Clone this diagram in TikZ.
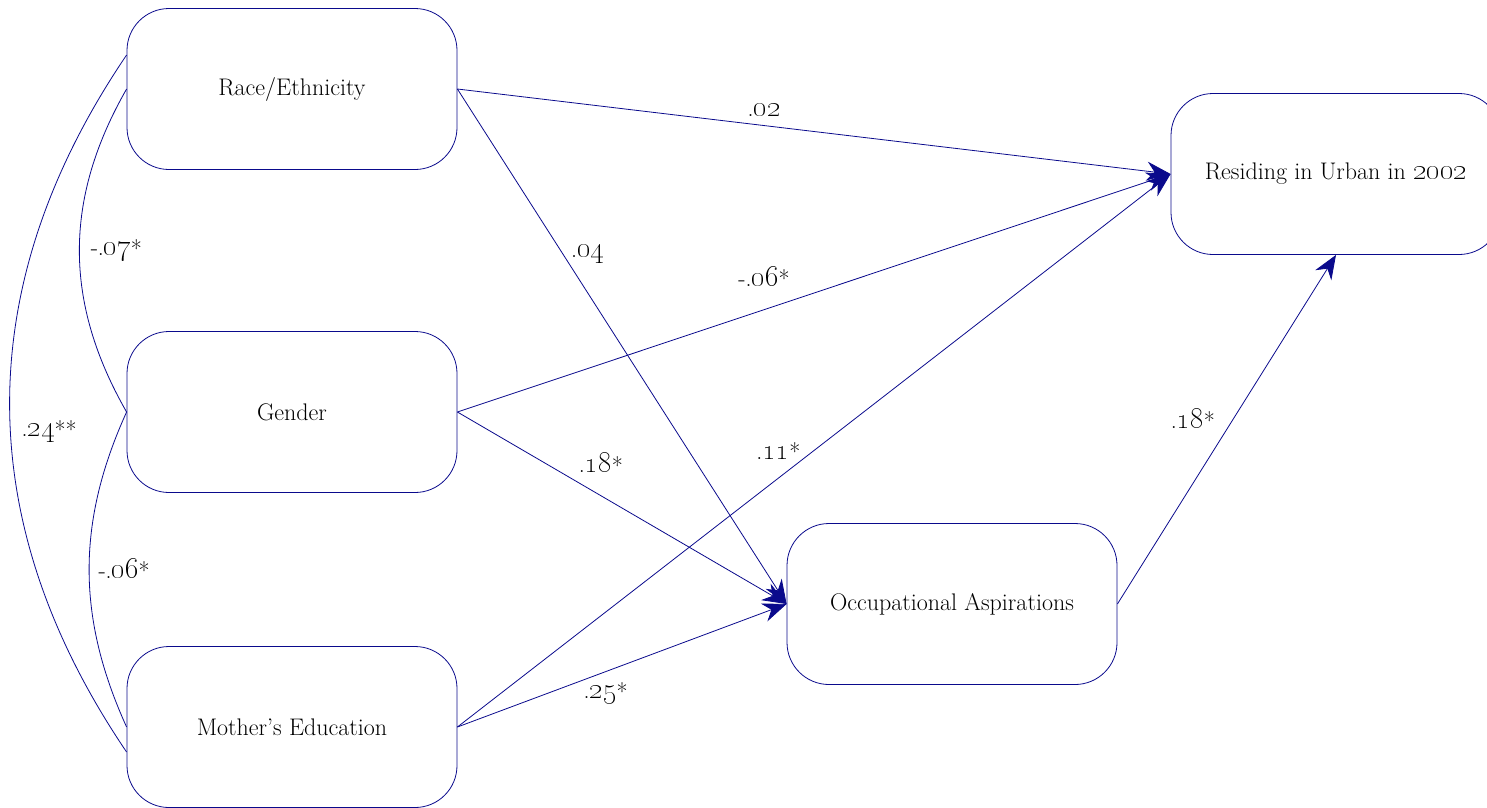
\documentclass[tikz,border=0pt]{standalone}
\usetikzlibrary{arrows.meta,calc}
\definecolor{navy}{RGB}{10,10,140}
\tikzset{
  box/.style={draw=navy, line width=0.8pt, rounded corners=42pt, minimum width=330pt, minimum height=161pt, align=center, font=\fontsize{24}{28}\selectfont},
  path/.style={draw=navy, line width=0.8pt, -{Stealth[length=24pt,width=19pt]}},
  cov/.style={draw=navy, line width=0.8pt},
  lab/.style={font=\fontsize{24}{28}\selectfont, inner sep=2pt}
}
\newcommand{\nm}[1]{{\fontsize{28}{32}\selectfont\oldstylenums{#1}}}
\newcommand{\st}{\raisebox{-0.12ex}{*}}
\begin{document}
\begin{tikzpicture}[x=1pt,y=-1pt]
\useasboundingbox (0,0) rectangle (1487,807);
\node[box] (race) at (292,89) {Race/Ethnicity};
\node[box] (gender) at (292,412) {Gender};
\node[box] (mother) at (292,727) {Mother's Education};
\node[box] (occ) at (952,604) {Occupational Aspirations};
\node[box] (res) at (1336,174) {Residing in Urban in \nm{2002}};

\draw[path] (race.east) -- node[lab, pos=0.43, above=7pt] {.\nm{02}} (res.west);
\draw[path] (race.east) -- node[lab, pos=0.32, right=6pt] {.\nm{04}} (occ.west);
\draw[path] (gender.east) -- node[lab, pos=0.43, above=20pt] {-.\nm{06}\st} (res.west);
\draw[path] (gender.east) -- node[lab, pos=0.43, above=18pt, xshift=2pt] {.\nm{18}\st} (occ.west);
\draw[path] (mother.east) -- node[lab, pos=0.45, above=15pt] {.\nm{11}\st} (res.west);
\draw[path] (mother.east) -- node[lab, pos=0.45, below=8pt] {.\nm{25}\st} (occ.west);
\draw[path] (occ.east) -- node[lab, pos=0.53, left=16pt] {.\nm{18}\st} (res.south);

\draw[cov] (race.west) .. controls +(-63,110) and +(-63,-110) .. node[lab, right=9pt] {-.\nm{07}\st} (gender.west);
\draw[cov] (gender.west) .. controls +(-50,110) and +(-50,-110) .. node[lab, right=7pt] {-.\nm{06}\st} (mother.west);
\draw[cov] ([yshift=34pt]race.west) .. controls +(-156,230) and +(-156,-230) .. node[lab, pos=0.54, right=9pt] {.\nm{24}\st\st} ([yshift=-25pt]mother.west);
\end{tikzpicture}
\end{document}
